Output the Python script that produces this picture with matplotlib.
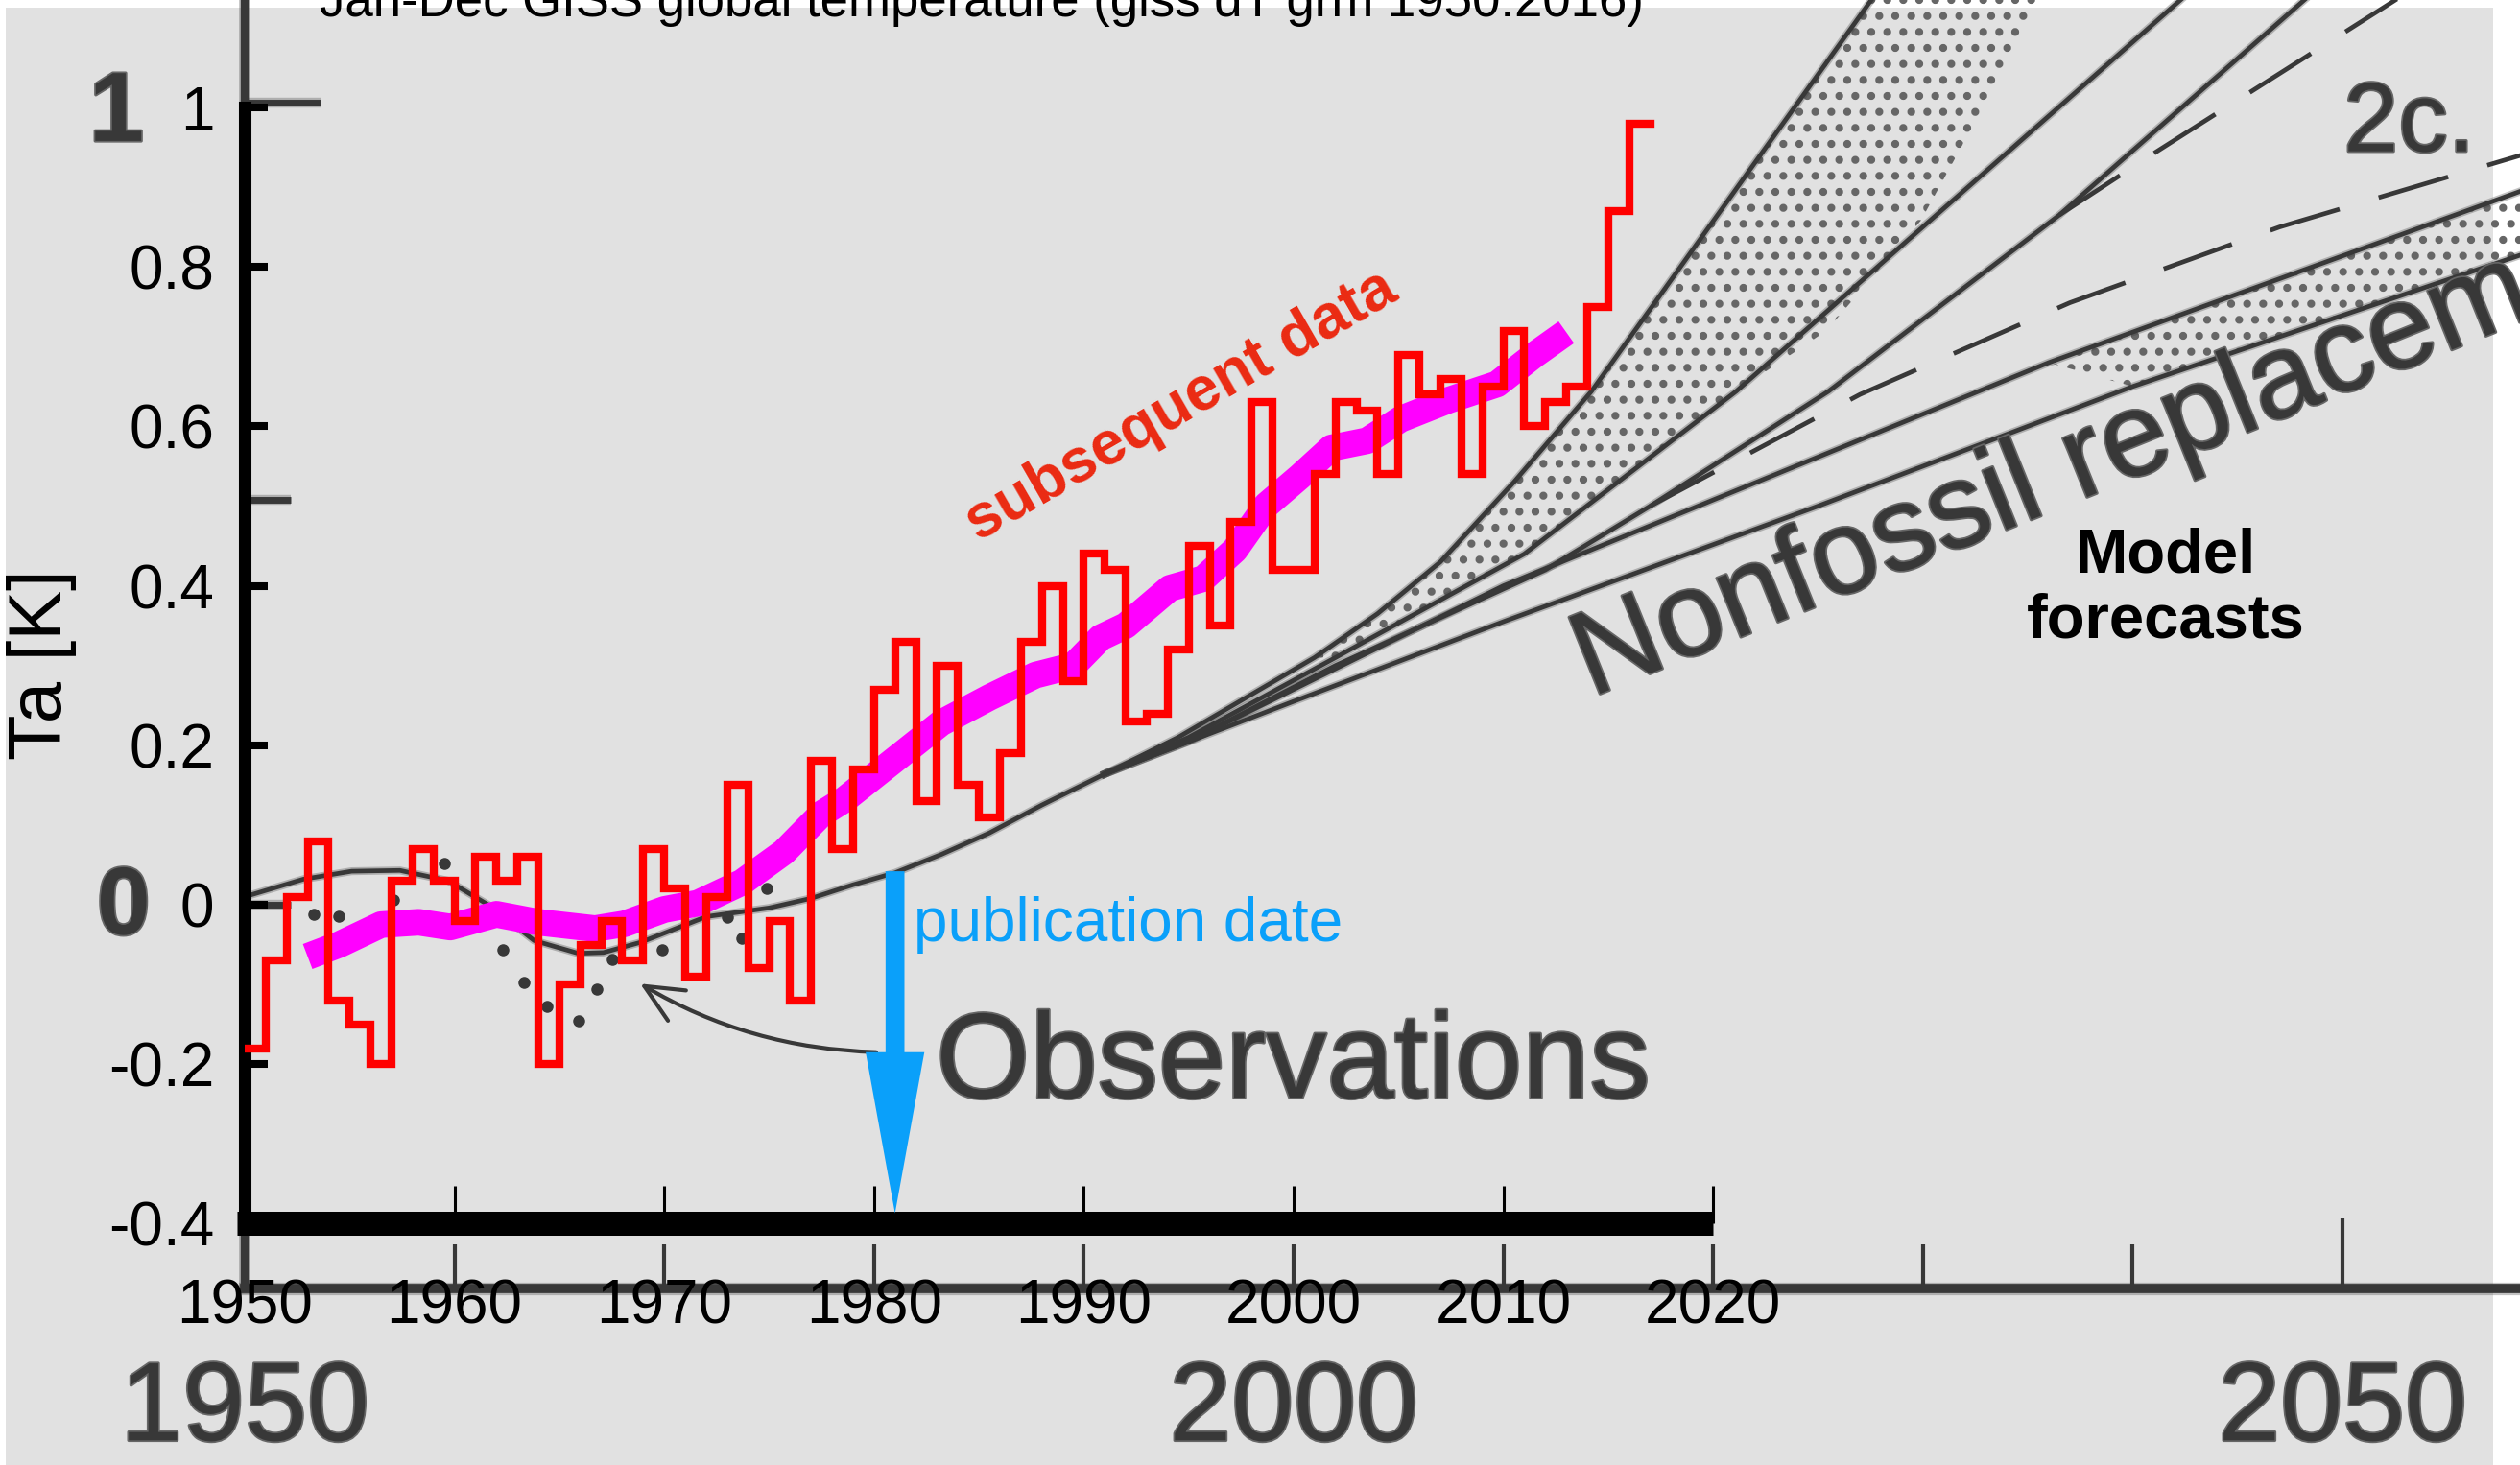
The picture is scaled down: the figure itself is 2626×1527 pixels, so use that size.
import matplotlib
matplotlib.use("Agg")
import matplotlib.pyplot as plt
import matplotlib.patheffects as pe
from matplotlib.patches import FancyArrow, FancyArrowPatch, Rectangle
import numpy as np

# ---- GISS annual global temperature anomaly (K), 1950-2016 ----
years = np.arange(1950, 2017)
temps = [-0.18, -0.07, 0.01, 0.08, -0.12, -0.15, -0.20, 0.03, 0.07, 0.03,
         -0.02, 0.06, 0.03, 0.06, -0.20, -0.10, -0.05, -0.02, -0.07, 0.07,
         0.02, -0.09, 0.01, 0.15, -0.08, -0.02, -0.12, 0.18, 0.07, 0.17,
         0.27, 0.33, 0.13, 0.30, 0.15, 0.11, 0.19, 0.33, 0.40, 0.28,
         0.44, 0.42, 0.23, 0.24, 0.32, 0.45, 0.35, 0.48, 0.63, 0.42,
         0.42, 0.54, 0.63, 0.62, 0.54, 0.69, 0.64, 0.66, 0.54, 0.65,
         0.72, 0.60, 0.63, 0.65, 0.75, 0.87, 0.98]

# smoothed trend
trend_years = [1953.0, 1954.5, 1956.5, 1958.3, 1959.8, 1962.0, 1964.0, 1966.7,
               1968.1, 1970.0, 1971.6, 1973.7, 1975.7, 1977.5, 1978.6, 1980.9,
               1983.2, 1985.5, 1987.7, 1989.5, 1990.8, 1992.0, 1994.1, 1995.7,
               1997.2, 1998.7, 2000.3, 2001.8, 2003.5, 2005.1, 2007.4, 2009.7,
               2011.5, 2013.0]
trend_vals = [-0.065, -0.050, -0.025, -0.022, -0.028, -0.012, -0.022, -0.030,
              -0.024, -0.006, 0.002, 0.028, 0.066, 0.114, 0.132, 0.180,
              0.228, 0.260, 0.288, 0.300, 0.335, 0.350, 0.397, 0.409,
              0.445, 0.501, 0.537, 0.573, 0.582, 0.609, 0.633, 0.653,
              0.690, 0.718]

# ---- 1981 paper: observed curve and model scenarios ----
obs_years = [1950.0, 1952.8, 1955.1, 1957.4, 1959.7, 1961.6, 1963.8, 1965.9,
             1967.1, 1968.9, 1972.0, 1975.0, 1977.0, 1979.0, 1981.0, 1983.2,
             1985.5, 1988.0, 1991.0]
obs_vals = [0.010, 0.032, 0.042, 0.043, 0.030, 0.000, -0.045, -0.061,
            -0.060, -0.047, -0.015, -0.004, 0.008, 0.025, 0.040, 0.063,
            0.090, 0.125, 0.164]

dot_years = [1953.3, 1954.5, 1957.1, 1959.5, 1962.3, 1963.3, 1964.4, 1965.9,
             1966.8, 1967.5, 1969.9, 1973.0, 1973.7, 1974.9]
dot_vals = [-0.012, -0.014, 0.006, 0.052, -0.057, -0.098, -0.127, -0.146,
            -0.106, -0.068, -0.057, -0.016, -0.042, 0.020]

fan1_years = [1991, 1994.5, 2001, 2004, 2007, 2010.5, 2014.2, 2027.3, 2029.3]
fan1_vals = [0.164, 0.21, 0.31, 0.365, 0.43, 0.53, 0.644, 1.126, 1.2]
fan2_years = [1991, 1995, 2002, 2011, 2021.1, 2041.9, 2045.1]
fan2_vals = [0.164, 0.21, 0.31, 0.44, 0.644, 1.126, 1.2]
fan3_years = [1991, 1995, 2002, 2012, 2017, 2025.5, 2036.5, 2047.8, 2051.0]
fan3_vals = [0.164, 0.205, 0.30, 0.42, 0.50, 0.644, 0.865, 1.126, 1.2]
fan4_years = [1991, 1995, 2000, 2010, 2036, 2058.5]
fan4_vals = [0.164, 0.205, 0.27, 0.40, 0.68, 0.895]
fan5_years = [1991, 2000, 2010, 2025, 2040, 2058.5]
fan5_vals = [0.164, 0.255, 0.355, 0.50, 0.65, 0.815]
dash1_years = [2036.5, 2041.1, 2052.0, 2056.4]
dash1_vals = [0.865, 0.944, 1.126, 1.2]
dash2_years = [2017, 2027, 2037, 2047, 2058.5]
dash2_vals = [0.50, 0.64, 0.755, 0.85, 0.94]
# right edge of the stippled band between fan1 and fan2
stipple_years = [2002, 2011, 2021.1, 2025.4, 2029.9, 2035.5, 2036.5]
stipple_vals = [0.31, 0.44, 0.644, 0.72, 0.858, 1.126, 1.2]

old_xticks = [1950, 1960, 1970, 1980, 1990, 2000, 2010, 2020, 2030, 2040, 2050]
old_xlabels = ["1950", "2000", "2050"]
old_xlabel_years = [1950, 2000, 2050]

xtick_years = [1950, 1960, 1970, 1980, 1990, 2000, 2010, 2020]
ytick_vals = [-0.4, -0.2, 0.0, 0.2, 0.4, 0.6, 0.8, 1.0]
ytick_labels = ["-0.4", "-0.2", "0", "0.2", "0.4", "0.6", "0.8", "1"]

pub_year = 1981

# ---- layout (pixels) ----
W, H, DPI = 2626, 1527, 100
PX_YEAR = 21.86      # pixels per year
PX_K = 831.0         # pixels per kelvin
X_1950 = 255.0       # pixel column of 1950
Y_ZERO = 943.0       # pixel row of 0 K

GRAY = "#383838"
BLUE = "#0aa0fa"

plt.rcParams["font.family"] = ["Liberation Sans", "DejaVu Sans"]
plt.rcParams["hatch.linewidth"] = 3.5


def soft(lw):
    return [pe.Stroke(linewidth=lw + 2.5, foreground=GRAY, alpha=0.3), pe.Normal()]


old_text = [pe.withStroke(linewidth=2.5, foreground="#666666")]

fig = plt.figure(figsize=(W / DPI, H / DPI), dpi=DPI, facecolor="white")

# background axes spanning the whole figure, same data scale as the plot
bg = fig.add_axes([0, 0, 1, 1])
bg.set_xlim(1950 - X_1950 / PX_YEAR, 1950 + (W - X_1950) / PX_YEAR)
bg.set_ylim(-(H - Y_ZERO) / PX_K, Y_ZERO / PX_K)
bg.axis("off")
bg.add_patch(Rectangle((6 / W, 0), (2598 - 6) / W, (H - 8) / H,
                       transform=bg.transAxes, facecolor="#e1e1e1",
                       edgecolor="none", zorder=-10))
xmax = bg.get_xlim()[1]
ymin, ymax = bg.get_ylim()

# old axes
bg.plot([1950, xmax], [-0.481, -0.481], color=GRAY, lw=7, path_effects=soft(7))
bg.plot([1950, 1950], [-0.481, ymax], color=GRAY, lw=6, path_effects=soft(6))
bg.vlines(old_xticks[:-1], -0.481, -0.426, color=GRAY, lw=3)
bg.vlines(old_xticks[-1], -0.481, -0.3935, color=GRAY, lw=3)
bg.hlines([1.006, 0.508, 0.0], 1950, [1953.6, 1952.2, 1952.2], color=GRAY, lw=5,
          path_effects=soft(5))
for lab, yr in zip(old_xlabels, old_xlabel_years):
    bg.text(yr, ymin + 0.002, lab, ha="center", va="bottom", fontsize=84,
            color=GRAY, path_effects=old_text)
bg.text(1945.2, 0.958, "1", ha="right", va="baseline", fontsize=74,
        fontweight="bold", color=GRAY, path_effects=old_text)
bg.text(1945.5, -0.037, "0", ha="right", va="baseline", fontsize=72,
        fontweight="bold", color=GRAY, path_effects=old_text)

# observed curve and dots from the 1981 paper
bg.plot(obs_years, obs_vals, color=GRAY, lw=3.4, path_effects=soft(3.4))
bg.plot(dot_years, dot_vals, "o", ms=8, color=GRAY)

# scenario fan
bg.fill(fan1_years[2:] + stipple_years[::-1], fan1_vals[2:] + stipple_vals[::-1],
        facecolor="none", edgecolor="#666666", hatch=".", lw=0)
bg.fill(fan4_years[4:] + fan5_years[4:][::-1], fan4_vals[4:] + fan5_vals[4:][::-1],
        facecolor="none", edgecolor="#666666", hatch=".", lw=0)
for fx, fy in [(fan1_years, fan1_vals), (fan2_years, fan2_vals),
               (fan3_years, fan3_vals), (fan4_years, fan4_vals),
               (fan5_years, fan5_vals)]:
    bg.plot(fx, fy, color=GRAY, lw=3.4, path_effects=soft(3.4))
for fx, fy in [(dash1_years, dash1_vals), (dash2_years, dash2_vals)]:
    bg.plot(fx, fy, color=GRAY, lw=3.4, dashes=(16, 9))

bg.text(1982.94, -0.242, "Observations", ha="left", va="baseline", fontsize=91,
        color=GRAY, path_effects=old_text)
bg.add_patch(FancyArrowPatch((1980.1, -0.185), (1968.85, -0.099),
                             connectionstyle="arc3,rad=-0.13",
                             arrowstyle="->,head_length=1.3,head_width=0.6",
                             mutation_scale=22, lw=3, color=GRAY,
                             shrinkA=0, shrinkB=0))
bg.text(2014.18, 0.26, "Nonfossil replacement", rotation=22, rotation_mode="anchor",
        ha="left", va="baseline", fontsize=90, color=GRAY, path_effects=old_text)
bg.text(2050.05, 0.945, "2c.", ha="left", va="baseline", fontsize=74, color=GRAY,
        path_effects=old_text)
bg.text(2041.55, 0.3965, "Model\nforecasts", ha="center", va="center",
        multialignment="center", fontsize=47, fontweight="bold", color="black",
        linespacing=1.15)

# ---- new axes with the subsequent record ----
ax = fig.add_axes([X_1950 / W, (H - (Y_ZERO + 0.4 * PX_K)) / H,
                   70 * PX_YEAR / W, 1.4 * PX_K / H])
ax.set_facecolor("none")
ax.set_xlim(1950, 2020)
ax.set_ylim(-0.4, 1.0)

ax.plot(trend_years, trend_vals, color="#ff00ff", lw=20, solid_capstyle="butt",
        zorder=3)
ax.step(np.r_[years, years[-1] + 1], np.r_[temps, temps[-1]], where="post",
        color="#ff0000", lw=6, solid_joinstyle="miter", zorder=4)

ax.add_patch(FancyArrow(pub_year, 0.042, 0, -0.429, width=0.9, head_width=2.8,
                        head_length=0.202, length_includes_head=True,
                        color=BLUE, lw=0, zorder=5))
ax.text(1981.9, -0.046, "publication date", ha="left", va="baseline",
        fontsize=46, color=BLUE)
ax.text(1994.65, 0.626, "subsequent data", rotation=30, rotation_mode="anchor",
        ha="center", va="center", fontsize=46, fontweight="bold", color="#eb2a12")

for side in ["top", "right"]:
    ax.spines[side].set_visible(False)
ax.spines["left"].set_linewidth(9.4)
ax.spines["bottom"].set_linewidth(18)
ax.spines["bottom"].set_capstyle("butt")
ax.spines["bottom"].set_bounds(1949.65, 2020)

ax.set_xticks(xtick_years)
ax.set_xticklabels([str(y) for y in xtick_years])
ax.set_yticks(ytick_vals)
ax.set_yticklabels(ytick_labels)
ax.tick_params(axis="x", direction="in", length=28, width=2.2, pad=41, labelsize=46)
ax.tick_params(axis="y", direction="in", length=17, width=5.8, pad=22.7, labelsize=46)

fig.text(44 / W, 1 - 693 / H, "Ta [K]", rotation=90, ha="center", va="center",
         fontsize=56)
fig.text(333 / W, 1 - 17 / H, "Jan-Dec GISS global temperature (giss dT grm 1950:2016)",
         ha="left", va="baseline", fontsize=38)

fig.savefig("out.png", dpi=DPI, facecolor="white")
